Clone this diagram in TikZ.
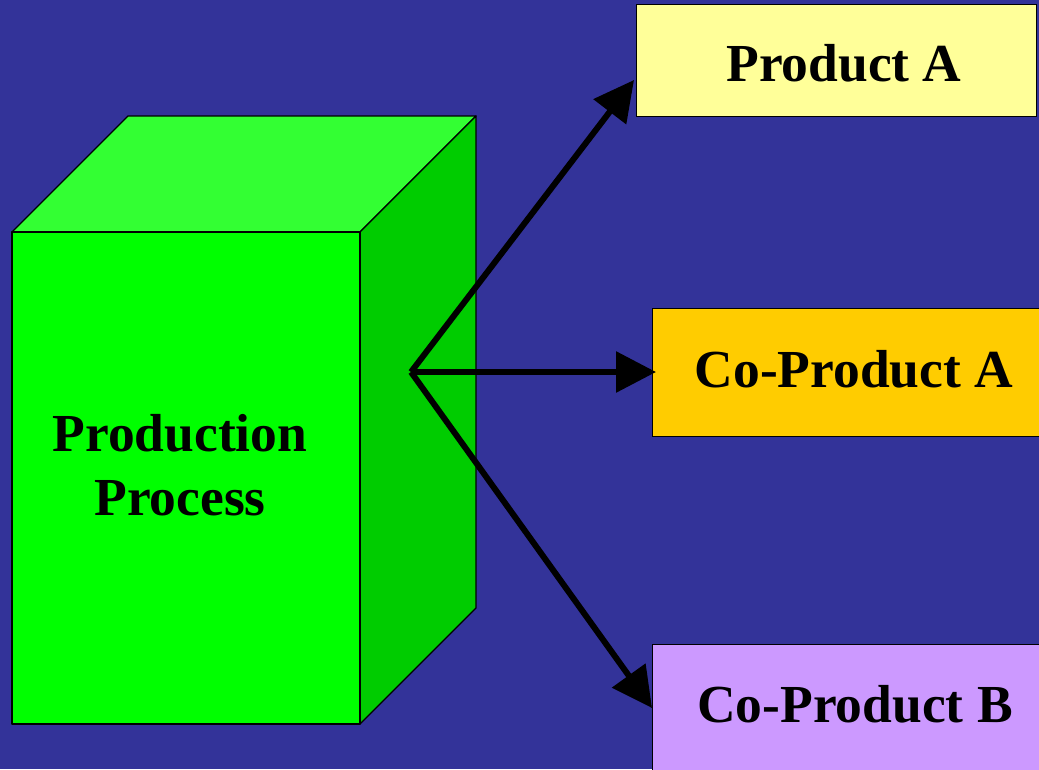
\documentclass[tikz,border=0pt]{standalone}
\usepackage{fontspec}
\setmainfont{Liberation Serif}
\usetikzlibrary{arrows.meta}
\definecolor{bg}{HTML}{333399}
\definecolor{front}{HTML}{00FF00}
\definecolor{topf}{HTML}{33FF33}
\definecolor{side}{HTML}{00CC00}
\definecolor{pa}{HTML}{FFFF99}
\definecolor{cpa}{HTML}{FFCC00}
\definecolor{cpb}{HTML}{CC99FF}
\tikzset{
  face/.style={draw=black, line width=1.3pt, line join=round},
  outbox/.style={draw=black, line width=1.3pt, rectangle, inner sep=0pt, anchor=north west},
  lbl/.style={font=\fontsize{53.5}{64}\selectfont\bfseries, text=black, align=center},
  flow/.style={line width=6pt, -{Triangle[length=40pt,width=40pt]}, line join=miter},
}
\begin{document}
\begin{tikzpicture}[x=1pt,y=-1pt]
\useasboundingbox (0,0) rectangle (1039,769);
\fill[bg] (0,0) rectangle (1039,769);
\begin{scope}
\clip (0,0) rectangle (1039,769);
% cube
\filldraw[face, fill=topf] (12,232) -- (128,116) -- (476,116) -- (360,232) -- cycle;
\filldraw[face, fill=side] (360,232) -- (476,116) -- (476,608) -- (360,724) -- cycle;
\filldraw[face, fill=front] (12,232) rectangle (360,724);
\node[lbl] (proc) at (180,465) {Production\\Process};
% output boxes
\node[outbox, fill=pa, minimum width=400pt, minimum height=112pt] (boxA) at (636,4) {};
\node[outbox, fill=cpa, minimum width=420pt, minimum height=128pt] (boxCA) at (652,308) {};
\node[outbox, fill=cpb, minimum width=420pt, minimum height=160pt] (boxCB) at (652,644) {};
\node[lbl] (tA) at (844,63) {Product A};
\node[lbl] (tCA) at (854,369) {Co-Product A};
\node[lbl] (tCB) at (855,704) {Co-Product B};
\end{scope}
% arrows
\coordinate (src) at (411,372);
\coordinate (endA) at (boxA.north west |- 0,80);
\draw[flow] (src) -- ([xshift=-2pt]endA);
\draw[flow] (src) -- ([xshift=4pt]boxCA.west |- src);
\coordinate (endB) at (boxCB.north west |- 0,708);
\draw[flow] (src) -- (endB);
\end{tikzpicture}
\end{document}
